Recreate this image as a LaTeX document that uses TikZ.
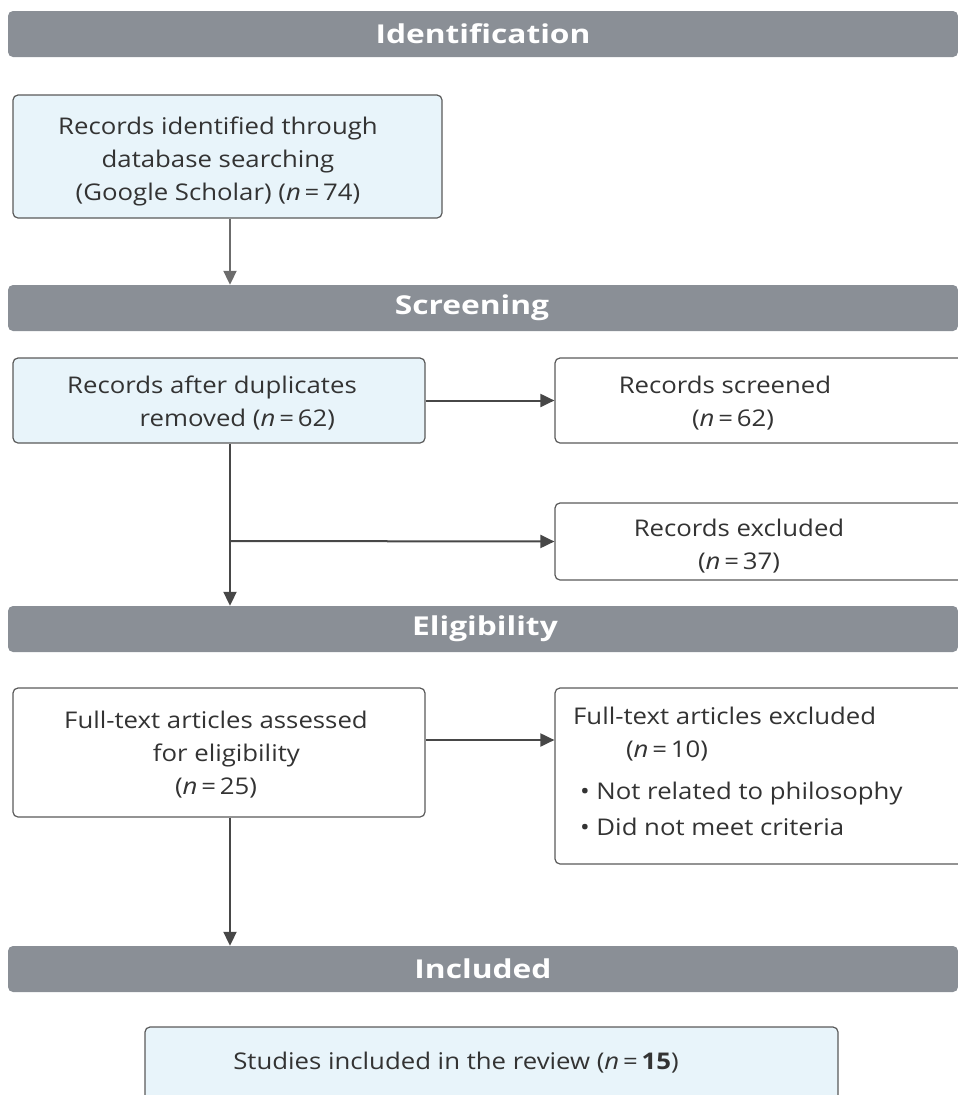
\documentclass[tikz,border=0pt]{standalone}
\usepackage{fontspec}
\setmainfont{Open Sans}
\newfontfamily\bodyfont[FakeStretch=1.12]{Open Sans}
\newfontfamily\barfont[FakeStretch=1.22]{Open Sans}
\usetikzlibrary{arrows.meta}
\definecolor{barcol}{HTML}{8A8F96}
\definecolor{boxblue}{HTML}{E8F4FA}
\definecolor{edgecol}{HTML}{5A5A5A}
\definecolor{txtcol}{HTML}{333333}
\definecolor{arrcol}{HTML}{474747}
\tikzset{
  phasebar/.style={fill=barcol, rounded corners=5pt, draw=none, minimum width=950pt, minimum height=46pt, inner sep=0pt},
  bartext/.style={text=white, font=\barfont\fontsize{26}{30}\selectfont\bfseries, inner sep=0pt},
  flowbox/.style={draw=edgecol, line width=1.2pt, rounded corners=5pt, inner sep=0pt},
  bluebox/.style={flowbox, fill=boxblue},
  whitebox/.style={flowbox, fill=white},
  boxtext/.style={text=txtcol, align=center, font=\bodyfont\fontsize{23}{33}\selectfont, inner sep=0pt},
  flowarrow/.style={draw=arrcol, line width=2pt, -{Triangle[length=14pt,width=13pt]}},
}
\begin{document}
\begin{tikzpicture}[x=1pt,y=-1pt]
\useasboundingbox (0,0) rectangle (958,1095);
\begin{scope}
\clip (0,0) rectangle (958,1095);
% phase bars
\node[phasebar] (bid) at (483,34) {};
\node[bartext] (tid) at (483,34) {Identification};
\node[phasebar] (bsc) at (483,308) {};
\node[bartext] (tsc) at (472,308) {Screening};
\node[phasebar] (bel) at (483,629) {};
\node[bartext] (tel) at (485,629) {Eligibility};
\node[phasebar] (bin) at (483,969) {};
\node[bartext] (tin) at (483,969) {Included};

% boxes
\node[bluebox, minimum width=429pt, minimum height=123pt] (b1) at (227.5,156.5) {};
\node[boxtext] (t1) at (218,161) {Records identified through\\database searching\\(Google Scholar) (\textit{n}\,=\,74)};

\node[bluebox, minimum width=412pt, minimum height=85pt] (b2) at (219,400.5) {};
\node[boxtext] (t2) at (212,403) {Records after duplicates\\\hspace*{2.2em}removed (\textit{n}\,=\,62)};

\node[whitebox, minimum width=420pt, minimum height=85pt] (b3) at (765,400.5) {};
\node[boxtext] (t3) at (725,403) {Records screened\\\hspace*{0.7em}(\textit{n}\,=\,62)};

\node[whitebox, minimum width=420pt, minimum height=77pt] (b4) at (765,541.5) {};
\node[boxtext] (t4) at (739,546) {Records excluded\\(\textit{n}\,=\,37)};

\node[whitebox, minimum width=412pt, minimum height=129pt] (b5) at (219,752.5) {};
\node[boxtext] (t5) at (216,755) {Full-text articles assessed\\\hspace*{0.9em}for eligibility\\(\textit{n}\,=\,25)};

\node[whitebox, minimum width=420pt, minimum height=176pt] (b6) at (765,776) {};
\node[boxtext, align=left, anchor=north west] (t6) at (573,707) {Full-text articles excluded\\\hspace*{2.3em}(\textit{n}\,=\,10)\\[9pt]\hspace*{0.3em}\textbullet\ Not related to philosophy\\[3pt]\hspace*{0.3em}\textbullet\ Did not meet criteria};

\node[bluebox, minimum width=693pt, minimum height=110pt] (b7) at (491.5,1082) {};
\node[boxtext] (t7) at (456,1063) {Studies included in the review (\textit{n}\,=\,\textbf{15})};

% connectors
\coordinate (c1) at (230,311);
\coordinate (jx) at (230,541);
\coordinate (c2) at (230,607);
\coordinate (c3) at (230,947);
\draw[flowarrow, draw=gray!85!black] (b1.south -| c1) -- (bsc.north -| c1);
\draw[flowarrow] (b2.east |- b3.west) -- (b3.west);
\draw[flowarrow] (b2.south -| c2) -- (bel.north -| c2);
\draw[flowarrow] (jx) -- (b4.west);
\draw[flowarrow] (b5.east |- 0,740) -- (b6.west |- 0,740);
\draw[flowarrow] (b5.south -| c3) -- (bin.north -| c3);
\end{scope}
\end{tikzpicture}
\end{document}
